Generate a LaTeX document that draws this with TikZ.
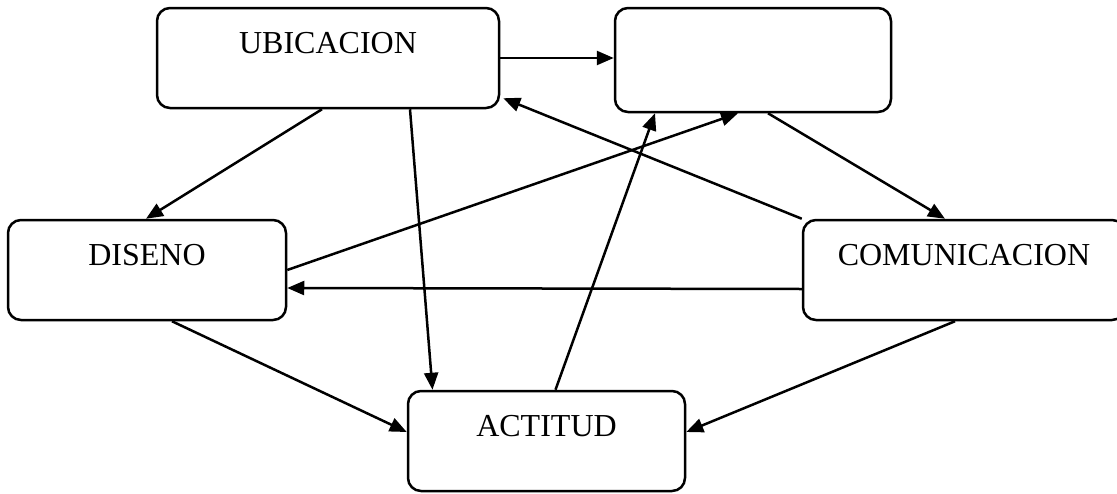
\documentclass[tikz,border=0pt]{standalone}
\usepackage{fontspec}
\setmainfont{Liberation Serif}
\usepackage{tikz}
\usetikzlibrary{positioning,arrows.meta}

\begin{document}
\begin{tikzpicture}[x=1pt,y=-1pt,on grid,
    box/.style={draw,line width=2.5pt,rounded corners=13pt,inner sep=0pt,
      text height=45pt,text depth=55pt,minimum height=100pt,
      font=\fontsize{32}{38}\selectfont},
    every edge/.style={draw,line width=2.5pt},
    >={Triangle[length=17pt,width=14pt]}]
   \useasboundingbox (0,0) rectangle (1117,493);
   \node[box,minimum width=342pt] (ubi) at (328,58) {UBICACION};
   \node[box,minimum width=276pt,minimum height=104pt,text height=47pt,text depth=57pt] (emp) [right=425pt of ubi,yshift=-2pt] {};
   \node[box,minimum width=278pt] (dis) [below left=212pt and 181pt of ubi] {DISENO};
   \node[box,minimum width=322pt] (com) [right=817pt of dis] {COMUNICACION};
   \node[box,minimum width=277pt] (act) [below right=171pt and 399.5pt of dis] {ACTITUD};

    \path[->]
    (ubi.east) edge (ubi.east -| emp.west)
    ([xshift=-6pt]ubi.south) edge ([xshift=-1pt]dis.north)
    ([xshift=82pt]ubi.south) edge ([xshift=-114pt]act.north)
    ([xshift=15pt]emp.south) edge ([xshift=-19pt]com.north)
    (com.north west) edge ([xshift=3pt,yshift=11pt]ubi.south east)
    (dis.east) edge ([xshift=-15pt]emp.south)
    ([yshift=-19pt]com.west) edge ([yshift=-18pt]dis.east)
    ([xshift=25pt]dis.south) edge ([yshift=9pt]act.west)
    ([xshift=-9pt]com.south) edge ([yshift=9pt]act.east)
    ([xshift=9pt]act.north) edge ([xshift=-98pt]emp.south);
\end{tikzpicture}
\end{document}
